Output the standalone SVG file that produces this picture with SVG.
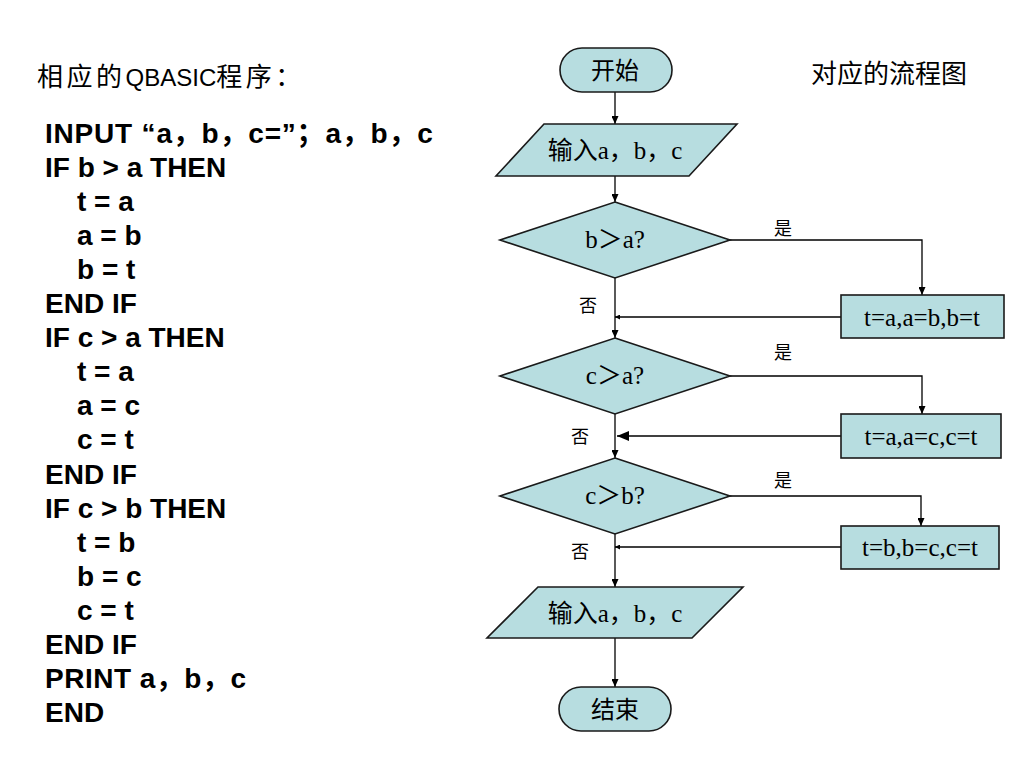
<svg xmlns="http://www.w3.org/2000/svg" width="1024" height="768" viewBox="0 0 1024 768">
<defs>
<style>
.shape{fill:#B7DDE0;stroke:#1a1a1a;stroke-width:1.6}
.conn{fill:none;stroke:#000;stroke-width:1.3}
.ft{font-family:"Liberation Serif","Noto Sans CJK SC",serif;font-size:25px;fill:#000;text-anchor:middle}
.cj{font-family:"Noto Sans CJK SC",sans-serif;font-size:24px;fill:#000;text-anchor:middle}
.lbl{font-family:"Noto Sans CJK SC",sans-serif;font-size:18px;fill:#000;text-anchor:middle}
.code{font-family:"Liberation Sans","Noto Sans CJK SC",sans-serif;font-size:28px;font-weight:bold;fill:#000}
.head{font-family:"Liberation Sans","Noto Sans CJK SC",sans-serif;font-size:26px;fill:#000}
</style>
<marker id="arr" markerUnits="userSpaceOnUse" markerWidth="8" markerHeight="7" refX="8" refY="3.5" orient="auto">
<path d="M0,0 L8,3.5 L0,7 z" fill="#000"/>
</marker>
<marker id="arrS" markerUnits="userSpaceOnUse" markerWidth="5" markerHeight="5" refX="5" refY="2.5" orient="auto">
<path d="M0,0 L5,2.5 L0,5 z" fill="#000"/>
</marker>
<marker id="arrL" markerUnits="userSpaceOnUse" markerWidth="12" markerHeight="10" refX="12" refY="5" orient="auto">
<path d="M0,0 L12,5 L0,10 z" fill="#000"/>
</marker>
</defs>
<rect width="1024" height="768" fill="#fff"/>

<g id="program">
<text class="head" x="37" y="86"><tspan letter-spacing="3.5">相应的</tspan><tspan style="font-size:24px">QBASIC</tspan><tspan letter-spacing="3.5">程序：</tspan></text>
<text class="code" x="45" y="142.5" letter-spacing="0.8">INPUT “a，b，c=”；a，b，c</text>
<text class="code" x="45" y="176.6">IF b &gt; a THEN</text>
<text class="code" x="77" y="210.7">t = a</text>
<text class="code" x="77" y="244.8">a = b</text>
<text class="code" x="77" y="278.9">b = t</text>
<text class="code" x="45" y="313">END IF</text>
<text class="code" x="45" y="347.1">IF c &gt; a THEN</text>
<text class="code" x="77" y="381.2">t = a</text>
<text class="code" x="77" y="415.3">a = c</text>
<text class="code" x="77" y="449.4">c = t</text>
<text class="code" x="45" y="483.5">END IF</text>
<text class="code" x="45" y="517.6">IF c &gt; b THEN</text>
<text class="code" x="77" y="551.7">t = b</text>
<text class="code" x="77" y="585.8">b = c</text>
<text class="code" x="77" y="619.9">c = t</text>
<text class="code" x="45" y="654">END IF</text>
<text class="code" x="45" y="688.1" letter-spacing="0.5">PRINT a，b，c</text>
<text class="code" x="45" y="722.2">END</text>
</g>

<g id="title">
<text class="cj" x="889" y="83" style="font-size:26px">对应的流程图</text>
</g>

<g id="connectors">
<path class="conn" d="M615,92 V124" marker-end="url(#arr)"/>
<path class="conn" d="M615,176 V202" marker-end="url(#arr)"/>
<path class="conn" d="M615,278 V338" marker-end="url(#arr)"/>
<path class="conn" d="M730,240 H922 V295" marker-end="url(#arr)"/>
<path class="conn" d="M841,317 H615" marker-end="url(#arrS)"/>
<path class="conn" d="M615,414 V458" marker-end="url(#arr)"/>
<path class="conn" d="M730,376 H922 V414" marker-end="url(#arr)"/>
<path class="conn" d="M841,436 H617" marker-end="url(#arrL)"/>
<path class="conn" d="M615,534 V587" marker-end="url(#arr)"/>
<path class="conn" d="M730,496 H921 V526" marker-end="url(#arr)"/>
<path class="conn" d="M841,547 H615" marker-end="url(#arrS)"/>
<path class="conn" d="M615,638 V687" marker-end="url(#arr)"/>
<text class="lbl" x="783" y="235">是</text>
<text class="lbl" x="588" y="312">否</text>
<text class="lbl" x="783" y="359">是</text>
<text class="lbl" x="580" y="443">否</text>
<text class="lbl" x="783" y="487">是</text>
<text class="lbl" x="580" y="558">否</text>
</g>

<g id="start">
<rect class="shape" x="560" y="48" width="112" height="44" rx="22" ry="22"/>
<text class="cj" x="615" y="79">开始</text>
</g>

<g id="input1">
<polygon class="shape" points="544,124 737,124 689,176 496,176"/>
<text class="ft" x="615" y="159">输入a，b，c</text>
</g>

<g id="cond1">
<polygon class="shape" points="615,202 730,240 615,278 500,240"/>
<text class="ft" x="615" y="248">b＞a?</text>
</g>

<g id="swap1">
<rect class="shape" x="841" y="295" width="163" height="43"/>
<text class="ft" x="922" y="326">t=a,a=b,b=t</text>
</g>

<g id="cond2">
<polygon class="shape" points="615,338 730,376 615,414 500,376"/>
<text class="ft" x="615" y="384">c＞a?</text>
</g>

<g id="swap2">
<rect class="shape" x="841" y="414" width="160" height="44"/>
<text class="ft" x="921" y="445">t=a,a=c,c=t</text>
</g>

<g id="cond3">
<polygon class="shape" points="615,458 730,496 615,534 500,496"/>
<text class="ft" x="615" y="504">c＞b?</text>
</g>

<g id="swap3">
<rect class="shape" x="841" y="526" width="158" height="43"/>
<text class="ft" x="920" y="556">t=b,b=c,c=t</text>
</g>

<g id="input2">
<polygon class="shape" points="538,587 743,587 692,638 487,638"/>
<text class="ft" x="615" y="622">输入a，b，c</text>
</g>

<g id="end">
<rect class="shape" x="559" y="687" width="112" height="44" rx="22" ry="22"/>
<text class="cj" x="615" y="718">结束</text>
</g>
</svg>
